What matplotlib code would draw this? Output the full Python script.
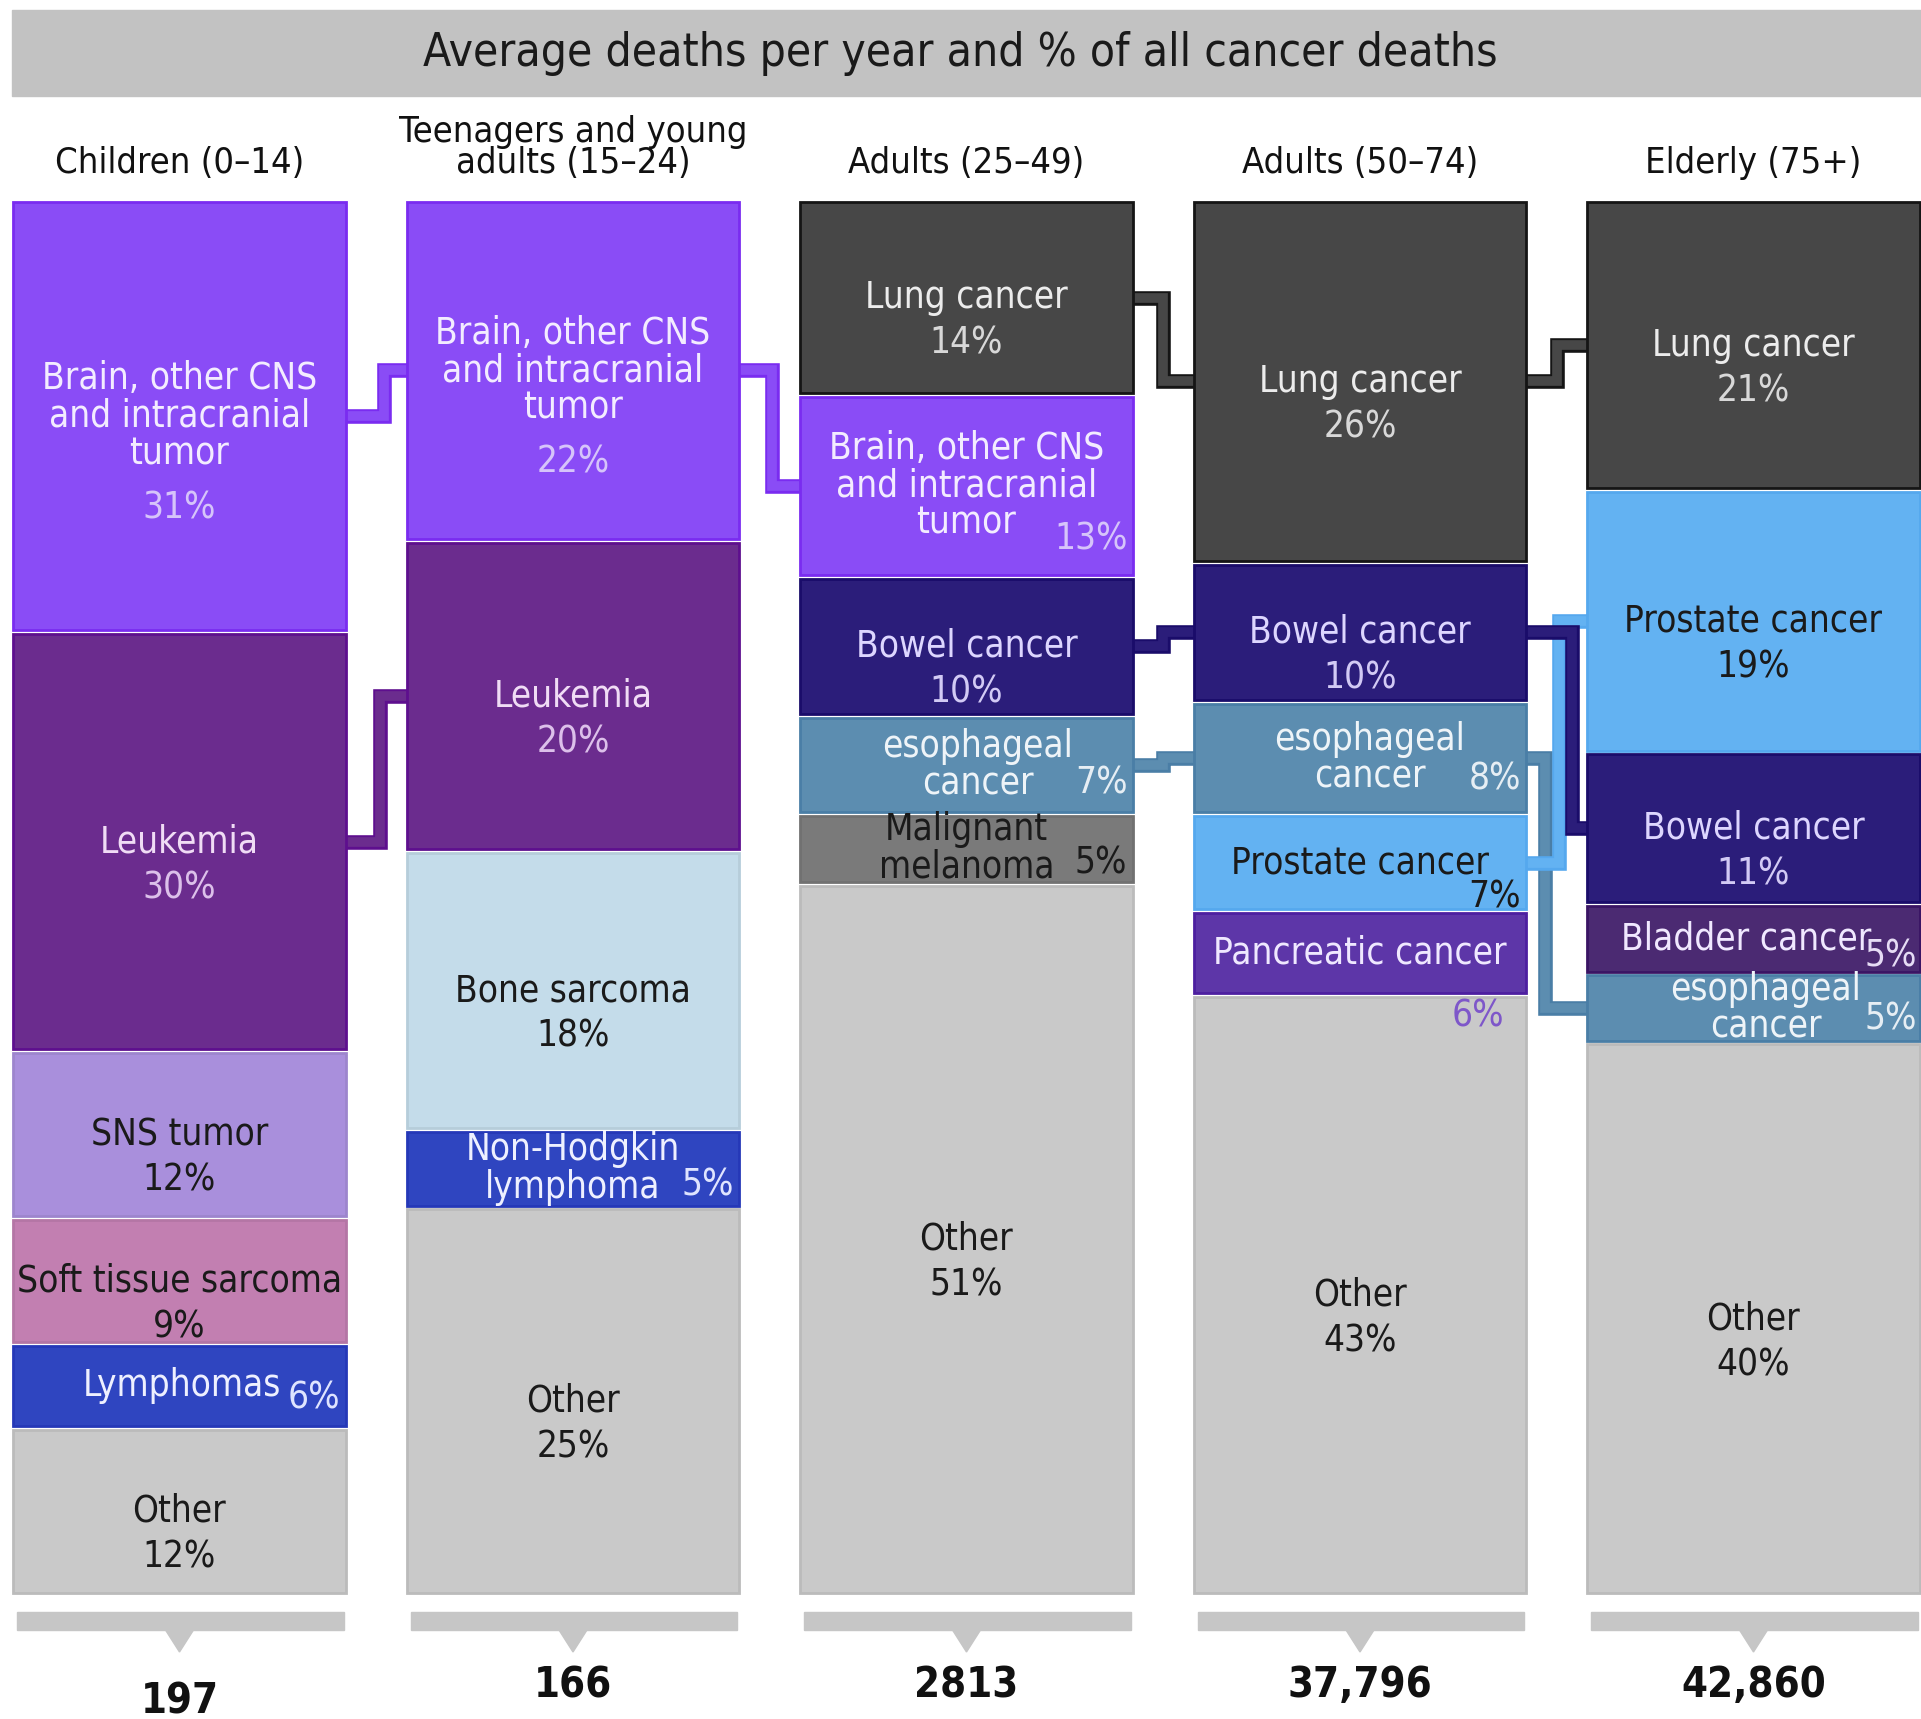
import matplotlib
matplotlib.use("Agg")
import matplotlib.pyplot as plt
from matplotlib import font_manager
from matplotlib.patches import Rectangle, Polygon
from matplotlib.transforms import blended_transform_factory
import matplotlib.patheffects as pe
import numpy as np

# condensed font if one is installed
fonts = font_manager.fontManager.ttflist
STRETCH = "normal"
FONT = "DejaVu Sans"
if any(f.name == "DejaVu Sans" and f.stretch == "condensed" for f in fonts):
    STRETCH = "condensed"
elif any(f.name == "Liberation Sans Narrow" for f in fonts):
    FONT = "Liberation Sans Narrow"
plt.rcParams['font.family'] = [FONT, 'DejaVu Sans']
plt.rcParams['font.stretch'] = STRETCH

BRAIN = "Brain, other CNS\nand intracranial\ntumor"
ESO = "esophageal\ncancer"
NHL = "Non-Hodgkin\nlymphoma"
MEL = "Malignant\nmelanoma"

groups = ["Children (0–14)", "Teenagers and young\nadults (15–24)",
          "Adults (25–49)", "Adults (50–74)", "Elderly (75+)"]
deaths = ["197", "166", "2813", "37,796", "42,860"]

children_types = [BRAIN, "Leukemia", "SNS tumor", "Soft tissue sarcoma", "Lymphomas", "Other"]
children_pct = [31, 30, 12, 9, 6, 12]
teen_types = [BRAIN, "Leukemia", "Bone sarcoma", NHL, "Other"]
teen_pct = [22, 20, 18, 5, 25]
adult_types = ["Lung cancer", BRAIN, "Bowel cancer", ESO, MEL, "Other"]
adult_pct = [14, 13, 10, 7, 5, 51]
middle_types = ["Lung cancer", "Bowel cancer", ESO, "Prostate cancer", "Pancreatic cancer", "Other"]
middle_pct = [26, 10, 8, 7, 6, 43]
elderly_types = ["Lung cancer", "Prostate cancer", "Bowel cancer", "Bladder cancer", ESO, "Other"]
elderly_pct = [21, 19, 11, 5, 5, 40]

columns = [(children_types, children_pct), (teen_types, teen_pct), (adult_types, adult_pct),
           (middle_types, middle_pct), (elderly_types, elderly_pct)]

fill = {BRAIN: "#8a4cf6", "Leukemia": "#6b2c8e", "SNS tumor": "#a98fdc",
        "Soft tissue sarcoma": "#c27fb1", "Lymphomas": "#2f45c0", NHL: "#2f45c0",
        "Other": "#c9c9c9", "Bone sarcoma": "#c4dcea", "Lung cancer": "#474747",
        "Bowel cancer": "#2b1d7a", ESO: "#5c8db0", MEL: "#7a7a7a",
        "Prostate cancer": "#63b2f2", "Pancreatic cancer": "#5d36a8",
        "Bladder cancer": "#4b2a72"}
edge = {BRAIN: "#7a2cf0", "Leukemia": "#5e0f8e", "Lung cancer": "#151515",
        "Bowel cancer": "#1a0c6a", ESO: "#4a7ea6", "Prostate cancer": "#55a8ee",
        "Pancreatic cancer": "#4d1fa0", "Bladder cancer": "#3a1464",
        "Lymphomas": "#2538b8", NHL: "#2538b8"}
name_col = {BRAIN: "#f3ecff", "Leukemia": "#f0dcf5", "Lymphomas": "#eef0ff", NHL: "#eef0ff",
            "Lung cancer": "#ececec", "Bowel cancer": "#ddd6ff", ESO: "#eef4f8",
            "Pancreatic cancer": "#efe8ff", "Bladder cancer": "#f0e8ff"}
pct_col = {BRAIN: "#d6c4fa", "Leukemia": "#dcc0ea", "Lymphomas": "#dfe4ff", NHL: "#dfe4ff",
           "Lung cancer": "#d8d8d8", "Bowel cancer": "#d2caf5", ESO: "#e6eef4",
           "Pancreatic cancer": "#7e57c9", "Bladder cancer": "#e6dcf5"}

# (column, category): (mode, pct offset pt, name dx pt, pct dx pt)
label_style = {
    (0, "Lymphomas"): ("right", 9, 2, -4),
    (1, NHL): ("right", 12, 0, -4),
    (2, BRAIN): ("right", 38, 0, -4),
    (2, ESO): ("right", 13, 8, -4),
    (2, MEL): ("right", 10, 0, -4),
    (3, ESO): ("right", 15, 7, -4),
    (3, "Prostate cancer"): ("right", 25, 0, -4),
    (3, "Pancreatic cancer"): ("right", 45, 0, -16),
    (4, "Bladder cancer"): ("right", 12, -5, -2),
    (4, ESO): ("right", 8, 9, -2),
}
# where the step of each connector sits inside the gap
bend = {(0, BRAIN): 0.52, (0, "Leukemia"): 0.51, (1, BRAIN): 0.505,
        (3, ESO): 0.47, (3, "Prostate cancer"): 0.505, (3, "Bowel cancer"): 0.54}
draw_order = [ESO, "Prostate cancer", "Bowel cancer", "Lung cancer", "Leukemia", BRAIN]

W, H = 1921, 1719
bar_top, bar_bot = 200, 1595
step, x0 = 393.5, 179.5
BW = 0.846
GAP = 0.28
FS = 26.5
LS = 27  # line step in points

fig = plt.figure(figsize=(W / 100, H / 100), dpi=100)
deco = fig.add_axes([0, 0, 1, 1])
deco.set_xlim(0, W)
deco.set_ylim(H, 0)
deco.axis('off')
ax = fig.add_axes([0, 1 - bar_bot / H, 1, (bar_bot - bar_top) / H])
ax.set_xlim(-x0 / step, (W - x0) / step)
ax.set_ylim(100, 0)
ax.axis('off')


def darker(c, f=0.75):
    r, g, b = matplotlib.colors.to_rgb(c)
    return (r * f, g * f, b * f)


mids = []
for i, (types, pct) in enumerate(columns):
    vals = np.array(pct, dtype=float) / sum(pct) * 100
    tops = np.cumsum(vals) - vals
    ax.bar(i, vals - GAP, bottom=tops + GAP / 2, width=BW,
           color=[fill[t] for t in types],
           edgecolor=[edge.get(t, darker(fill[t], 0.93)) for t in types],
           linewidth=2, zorder=2)
    mids.append({t: tp + v / 2 for t, tp, v in zip(types, tops, vals)})

    for t, p, m in zip(types, pct, tops + vals / 2):
        mode, pdy, ndx, pdx = label_style.get((i, t), ("below", None, 0, 0))
        nc = name_col.get(t, "#1a1a1a")
        pc = pct_col.get(t, "#1a1a1a")
        lines = t.split("\n")
        n = len(lines)
        for k, line in enumerate(lines):
            ax.annotate(line, xy=(i, m), xytext=(ndx, -(k - (n - 1) / 2) * LS),
                        textcoords='offset points', ha='center', va='center',
                        fontsize=FS, color=nc, zorder=5)
        if mode == "below":
            dy = (n - 1) / 2 * LS + 33 + (6 if n > 1 else 0)
            ax.annotate(f"{p}%", xy=(i, m), xytext=(0, -dy),
                        textcoords='offset points', ha='center', va='center',
                        fontsize=FS, color=pc, zorder=5)
        else:
            ax.annotate(f"{p}%", xy=(i + BW / 2, m), xytext=(pdx, -pdy),
                        textcoords='offset points', ha='right', va='center',
                        fontsize=FS, color=pc, zorder=5)

# connectors between neighbouring columns
for i in range(len(columns) - 1):
    shared = [t for t in draw_order if t in mids[i] and t in mids[i + 1]]
    for t in shared:
        y1, y2 = mids[i][t], mids[i + 1][t]
        xb = i + bend.get((i, t), 0.5)
        lc = fill[t]
        oc = edge.get(t, darker(lc))
        ax.plot([i, xb, xb, i + 1], [y1, y1, y2, y2], color=lc, lw=7,
                solid_joinstyle='miter', zorder=1,
                path_effects=[pe.Stroke(linewidth=10.5, foreground=oc), pe.Normal()])

# header band
deco.add_patch(Rectangle((12, 10), W - 12, 86, color="#c2c2c2", zorder=0))
deco.text(960, 54, "Average deaths per year and % of all cancer deaths",
          ha='center', va='center', fontsize=33, color="#1a1a1a")

hx = blended_transform_factory(ax.transData, deco.transData)
for i, g in enumerate(groups):
    ax.text(i, 180, g, transform=hx, ha='center', va='bottom', fontsize=26,
            color="#111111", linespacing=0.9, clip_on=False)

# footer tabs and totals
num_dy = [16, 0, 0, 0, 0]
for i, d in enumerate(deaths):
    xl, xr = ax.transData.transform([(i - BW / 2, 0), (i + BW / 2, 0)])[:, 0]
    deco.add_patch(Rectangle((xl + 4, 1612), xr - xl - 6, 18, color="#c6c6c6", zorder=1))
    xc = (xl + xr) / 2
    deco.add_patch(Polygon([(xc - 14, 1630), (xc + 14, 1630), (xc, 1652)],
                           closed=True, color="#c6c6c6", zorder=1))
    ax.text(i, 1685 + num_dy[i], d, transform=hx, ha='center', va='center',
            fontsize=30, fontweight='bold', color="#111111", clip_on=False)

fig.savefig("out.png", dpi=100)
